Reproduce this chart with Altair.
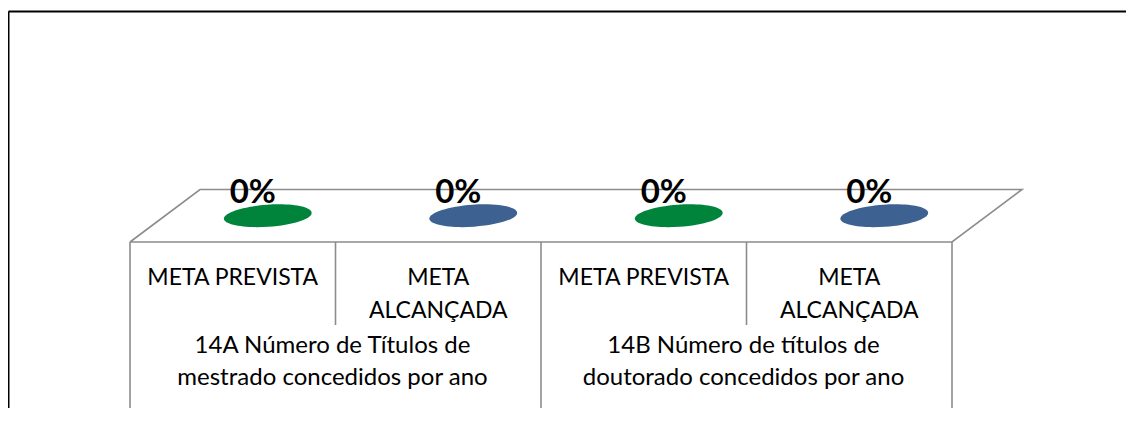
import altair as alt
import pandas as pd

# ---- data ----
categories = ["META PREVISTA", "META\nALCANÇADA", "META PREVISTA", "META\nALCANÇADA"]
groups = ["14A Número de Títulos de\nmestrado concedidos por ano",
          "14B Número de títulos de\ndoutorado concedidos por ano"]
group_size = [2, 2]
values = [0, 0, 0, 0]               # percent
value_labels = ["0%", "0%", "0%", "0%"]
series_colors = ["#00843C", "#3D6191", "#00843C", "#3D6191"]

# ---- layout / style ----
W, H = 1118, 397
FONT = "Lato"
GRAY = "#8C8C8C"
X_DOMAIN = [-0.5937, 4.8467]        # category units
Y_DOMAIN = [-83, 115.5]             # percent units
DX = 0.3406                          # 3D depth offset in category units
DY = 26.25                           # 3D depth offset in value units
ROW1 = -41.5                         # bottom of first label row
ROW2 = Y_DOMAIN[0]                   # bottom of second label row

n = len(categories)
xs = alt.Scale(domain=X_DOMAIN, nice=False, zero=False)
ys = alt.Scale(domain=Y_DOMAIN, nice=False, zero=False)
X = alt.X("x:Q", scale=xs,
          axis=alt.Axis(orient="top", grid=False, ticks=False, labels=False, title="",
                        domainColor="black", domainWidth=2))
Y = alt.Y("y:Q", scale=ys,
          axis=alt.Axis(orient="left", grid=False, ticks=False, labels=False, title="",
                        domainColor="black", domainWidth=2))

# floor (parallelogram at value 0)
floor_df = pd.DataFrame({"cx": [0, n, n, 0, 0], "depth": [0, 0, 1, 1, 0], "o": range(5)})
floor = alt.Chart(floor_df).transform_calculate(
    x=f"datum.cx + datum.depth * {DX}", y=f"datum.depth * {DY}"
).mark_line(color=GRAY, strokeWidth=1.6).encode(x=X, y=Y, order="o:Q")

# category axis separators (multi-level)
sep_df = pd.DataFrame({"b": list(range(n + 1)),
                       "row": [2 if (b % 2 == 0) else 1 for b in range(n + 1)]})
seps = alt.Chart(sep_df).transform_calculate(
    x="datum.b", y="0", y2=f"datum.row == 1 ? {ROW1} : {ROW2}"
).mark_rule(color=GRAY, strokeWidth=1.6).encode(x=X, y=Y, y2="y2:Q")

bars_df = pd.DataFrame({"i": list(range(n)), "cat": categories, "value": values,
                        "label": value_labels, "color": series_colors})
bars_base = alt.Chart(bars_df).transform_calculate(
    x=f"datum.i + 0.5 + 0.5 * {DX}", y=f"datum.value + 0.5 * {DY}"
)

ellipse_path = ("M -1 0 C -1 -0.138 -0.552 -0.25 0 -0.25 C 0.552 -0.25 1 -0.138 1 0 "
                "C 1 0.138 0.552 0.25 0 0.25 C -0.552 0.25 -1 0.138 -1 0 Z")
tops = bars_base.mark_point(shape=ellipse_path, filled=True, size=88 * 88, angle=356,
                            opacity=1, strokeWidth=0).encode(
    x=X, y=Y, color=alt.Color("color:N", scale=None))

vlabels = bars_base.mark_text(font=FONT, fontSize=33, fontWeight="bold", color="black",
                              dx=-15, dy=-13, baseline="alphabetic", align="center").encode(
    x=X, y=Y, text="label:N")

cat_labels = alt.Chart(bars_df).transform_calculate(
    x="datum.i + 0.5", y="0"
).mark_text(font=FONT, fontSize=23, color="black", baseline="top", align="center",
            dy=25, lineBreak="\n", lineHeight=33).encode(x=X, y=Y, text="cat:N")

starts = [sum(group_size[:k]) for k in range(len(groups))]
grp_df = pd.DataFrame({"g": groups, "start": starts, "size": group_size})
grp_labels = alt.Chart(grp_df).transform_calculate(
    x="datum.start + datum.size / 2", y="0"
).mark_text(font=FONT, fontSize=24, color="black", baseline="top", align="center",
            dx=-3, dy=92, lineBreak="\n", lineHeight=32).encode(x=X, y=Y, text="g:N")

chart = alt.layer(floor, seps, tops, vlabels, cat_labels, grp_labels).properties(
    width=W, height=H,
    padding={"left": 0, "top": 3, "right": 0, "bottom": 0},
    autosize=alt.AutoSizeParams(type="none"),
).configure_view(strokeWidth=0).configure(background="white")

chart.save("out.html", embed_options={"renderer": "svg", "actions": False})
